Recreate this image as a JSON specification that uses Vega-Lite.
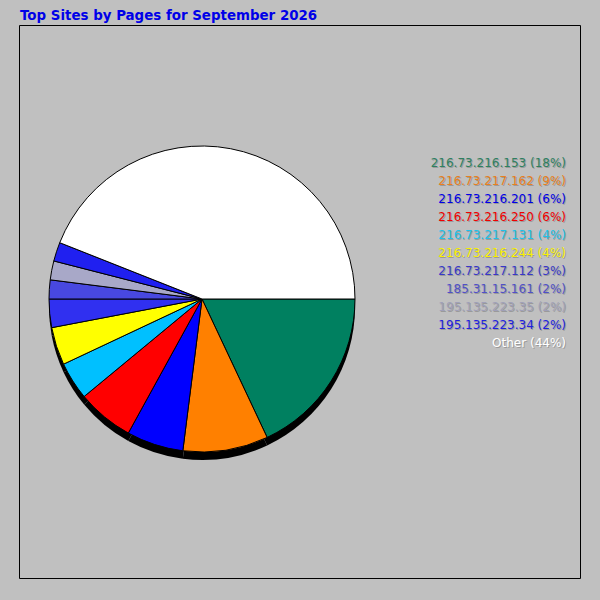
{
  "$schema": "https://vega.github.io/schema/vega-lite/v6.json",
  "description": "Top sites by pages, pie with colour-coded list on the right.",
  "width": 561,
  "height": 553,
  "autosize": "none",
  "padding": {"left": 19, "top": 25, "right": 20, "bottom": 22},
  "background": "#c0c0c0",
  "view": {"stroke": "black", "strokeWidth": 1, "fill": "#c0c0c0"},
  "title": {
    "text": "Top Sites by Pages for September 2026",
    "anchor": "start",
    "font": "DejaVu Sans",
    "fontSize": 13.4,
    "fontWeight": "bold",
    "color": "#0000e8",
    "offset": 3,
    "dx": 1
  },
  "data": {
    "values": [
      {"rank": 1, "site": "216.73.216.153", "pct": 18, "label": "216.73.216.153 (18%)", "slice": "#008060", "ink": "#2e8060"},
      {"rank": 2, "site": "216.73.217.162", "pct": 9, "label": "216.73.217.162 (9%)", "slice": "#ff8000", "ink": "#e88020"},
      {"rank": 3, "site": "216.73.216.201", "pct": 6, "label": "216.73.216.201 (6%)", "slice": "#0000ff", "ink": "#0000e8"},
      {"rank": 4, "site": "216.73.216.250", "pct": 6, "label": "216.73.216.250 (6%)", "slice": "#ff0000", "ink": "#f00000"},
      {"rank": 5, "site": "216.73.217.131", "pct": 4, "label": "216.73.217.131 (4%)", "slice": "#00c0ff", "ink": "#20c0e8"},
      {"rank": 6, "site": "216.73.216.244", "pct": 4, "label": "216.73.216.244 (4%)", "slice": "#ffff00", "ink": "#f8f000"},
      {"rank": 7, "site": "216.73.217.112", "pct": 3, "label": "216.73.217.112 (3%)", "slice": "#3030f0", "ink": "#3838c8"},
      {"rank": 8, "site": "185.31.15.161", "pct": 2, "label": "185.31.15.161 (2%)", "slice": "#4848e0", "ink": "#5050c8"},
      {"rank": 9, "site": "195.135.223.35", "pct": 2, "label": "195.135.223.35 (2%)", "slice": "#a8a8c8", "ink": "#a0a0b8"},
      {"rank": 10, "site": "195.135.223.34", "pct": 2, "label": "195.135.223.34 (2%)", "slice": "#2020f0", "ink": "#2020e0"},
      {"rank": 11, "site": "Other", "pct": 44, "label": "Other (44%)", "slice": "#ffffff", "ink": "#ffffff"}
    ]
  },
  "layer": [
    {
      "mark": {"type": "arc", "x": 183, "y": 282, "outerRadius": 153, "color": "black"},
      "encoding": {
        "theta": {"field": "pct", "type": "quantitative", "stack": true, "scale": {"range": [1.5708, 7.854]}},
        "order": {"field": "rank", "type": "quantitative"}
      }
    },
    {
      "mark": {"type": "arc", "x": 183, "y": 274, "outerRadius": 153, "stroke": "black", "strokeWidth": 1},
      "encoding": {
        "theta": {"field": "pct", "type": "quantitative", "stack": true, "scale": {"range": [1.5708, 7.854]}},
        "order": {"field": "rank", "type": "quantitative"},
        "fill": {"field": "slice", "type": "nominal", "scale": null}
      }
    },
    {
      "mark": {"type": "text", "x": 548, "dy": 1, "align": "right", "baseline": "middle", "font": "DejaVu Sans", "fontSize": 12, "color": "#9a9a9a"},
      "encoding": {
        "y": {"field": "rank", "type": "ordinal", "axis": null, "scale": {"type": "point", "padding": 0, "range": [138, 318]}},
        "text": {"field": "label"}
      }
    },
    {
      "mark": {"type": "text", "x": 547, "align": "right", "baseline": "middle", "font": "DejaVu Sans", "fontSize": 12},
      "encoding": {
        "y": {"field": "rank", "type": "ordinal", "axis": null, "scale": {"type": "point", "padding": 0, "range": [138, 318]}},
        "text": {"field": "label"},
        "color": {"field": "ink", "type": "nominal", "scale": null}
      }
    }
  ]
}
